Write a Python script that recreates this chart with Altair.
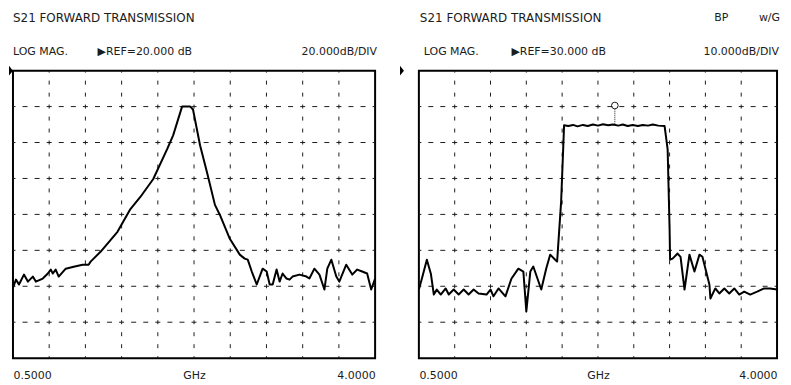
import altair as alt
import pandas as pd

# ---------------- data ----------------
# Left panel: LOG MAG, REF = 20 dB, 20 dB/div
f_left = [0.500, 0.529, 0.558, 0.606, 0.644, 0.692, 0.721, 0.788, 0.837, 0.865,
          0.885, 0.913, 0.942, 1.010, 1.087, 1.173, 1.231, 1.250, 1.346, 1.510,
          1.635, 1.731, 1.856, 1.990, 2.048, 2.135, 2.212, 2.240, 2.308, 2.375,
          2.452, 2.500, 2.596, 2.692, 2.740, 2.769, 2.808, 2.856, 2.913, 2.952,
          2.981, 3.010, 3.048, 3.077, 3.106, 3.144, 3.173, 3.202, 3.269, 3.337,
          3.365, 3.413, 3.462, 3.510, 3.538, 3.577, 3.625, 3.654, 3.721, 3.779,
          3.827, 3.875, 3.923, 3.962, 4.000]
db_left = [-100.7, -96.3, -99.0, -93.5, -97.4, -94.6, -97.4, -95.7, -92.9, -90.7,
           -92.9, -90.7, -94.6, -90.2, -89.1, -88.0, -88.0, -86.3, -80.8, -69.7,
           -57.0, -50.3, -40.3, -23.7, -16.0, 0.1, 0.1, -1.6, -21.5, -36.5,
           -54.7, -60.3, -73.6, -82.4, -84.6, -85.2, -91.8, -99.0, -90.2, -91.8,
           -99.0, -99.0, -90.7, -97.4, -92.9, -95.7, -96.3, -94.6, -93.5, -94.6,
           -95.7, -90.2, -93.5, -101.8, -90.2, -85.2, -94.6, -97.4, -88.0, -93.5,
           -90.7, -91.8, -92.9, -101.8, -95.7]

# Right panel: LOG MAG, REF = 30 dB, 10 dB/div (band-pass)
f_right = [0.500, 0.529, 0.578, 0.617, 0.646, 0.675, 0.714, 0.762, 0.792, 0.840,
           0.889, 0.938, 0.986, 1.035, 1.083, 1.161, 1.200, 1.229, 1.278, 1.346,
           1.404, 1.472, 1.521, 1.550, 1.589, 1.618, 1.696, 1.744, 1.783, 1.832,
           1.851, 1.890, 1.910, 1.919, 1.960, 2.007, 2.050, 2.104, 2.150, 2.201,
           2.250, 2.299, 2.350, 2.396, 2.450, 2.493, 2.540, 2.590, 2.640, 2.688,
           2.740, 2.785, 2.840, 2.901, 2.931, 2.950, 2.955, 2.979, 3.028, 3.057,
           3.096, 3.144, 3.193, 3.242, 3.271, 3.339, 3.349, 3.397, 3.436, 3.485,
           3.533, 3.582, 3.631, 3.679, 3.738, 3.806, 3.874, 3.932, 4.000]
db_right = [-30.9, -27.9, -22.6, -26.5, -32.3, -30.9, -32.3, -30.6, -32.3, -30.9,
            -32.3, -30.9, -32.3, -30.9, -32.0, -32.3, -30.9, -32.8, -30.6, -32.8,
            -27.9, -25.1, -25.9, -37.0, -25.9, -24.5, -30.9, -25.1, -21.2, -22.6,
            -23.1, -6.5, 8.1, 14.8, 14.6, 14.9, 14.5, 14.9, 14.6, 15.0,
            14.7, 15.1, 14.8, 15.0, 14.7, 15.0, 14.6, 14.9, 14.6, 14.9,
            14.7, 15.0, 14.7, 14.6, 8.1, -14.0, -22.6, -22.3, -20.9, -21.8,
            -30.9, -21.2, -25.9, -21.2, -21.8, -29.5, -33.4, -30.6, -32.0, -30.6,
            -32.0, -30.6, -32.3, -31.5, -32.3, -31.5, -30.6, -30.6, -30.9]

# grid positions
freq_grid = [0.85, 1.20, 1.55, 1.90, 2.25, 2.60, 2.95, 3.30, 3.65]
left_db_grid = [0, -20, -40, -60, -80, -100, -120]
right_db_grid = [20, 10, 0, -10, -20, -30, -40]

# axis labels
x_label_values = [0.5, 2.25, 4.0]

# marker on right trace
marker_f = [2.415]
marker_trace_db = [15.1]
marker_top_db = [19.3]
marker_db = [20.3]

FONT = "DejaVu Sans"
INK = "#1c1c1c"
ONE = pd.DataFrame({"a": [0]})


def text_layer(t, x, y, align="left", size=11):
    return alt.Chart(ONE).mark_text(
        text=t, align=align, baseline="middle", font=FONT, fontSize=size, color=INK
    ).encode(x=alt.value(x), y=alt.value(y))


def make_panel(f, db, y_lo, y_hi, h_lines, w, h, texts, ref_db, arrow_x,
               marker=False, anchor=False):
    xs = alt.Scale(domain=[0.5, 4.0], nice=False, zero=False)
    ys = alt.Scale(domain=[y_lo, y_hi], nice=False, zero=False)
    xaxis = alt.Axis(
        values=x_label_values,
        labelExpr="datum.value == 2.25 ? 'GHz' : format(datum.value, '.4f')",
        labelFlush=True, domain=False, ticks=False, grid=False,
        labelPadding=11, labelFont=FONT, labelFontSize=11, labelColor=INK,
        title=None,
    )
    layers = []
    if anchor:
        layers.append(
            alt.Chart(ONE).mark_rule(color="white", strokeWidth=1).encode(
                x=alt.value(-3.5), x2=alt.value(w), y=alt.value(-60.5)
            )
        )
    pv = h / 24.0
    ph = w / 30.0
    vgrid = alt.Chart(pd.DataFrame({"f": freq_grid})).mark_rule(
        color=INK, strokeWidth=1, strokeDash=[4, pv - 4], strokeDashOffset=2
    ).encode(x=alt.X("f:Q", scale=xs, axis=xaxis))
    hgrid = alt.Chart(pd.DataFrame({"db": h_lines})).mark_rule(
        color=INK, strokeWidth=1, strokeDash=[5, ph - 5], strokeDashOffset=2.5
    ).encode(y=alt.Y("db:Q", scale=ys, axis=None))
    trace = alt.Chart(pd.DataFrame({"f": f, "db": db})).mark_line(
        color="black", strokeWidth=2, strokeJoin="round"
    ).encode(
        x=alt.X("f:Q", scale=xs, axis=xaxis),
        y=alt.Y("db:Q", scale=ys, axis=None),
        order=alt.Order("f:Q"),
    )
    arrow = alt.Chart(pd.DataFrame({"db": [ref_db]})).mark_point(
        shape="M-0.4,-1L0.4,0L-0.4,1Z", filled=True, color="black",
        size=100, opacity=1, strokeWidth=0
    ).encode(x=alt.value(arrow_x), y=alt.Y("db:Q", scale=ys, axis=None))
    layers += [vgrid, hgrid, trace, arrow]
    if marker:
        mdf = pd.DataFrame({"f": marker_f, "lo": marker_trace_db,
                            "hi": marker_top_db, "m": marker_db})
        stem = alt.Chart(mdf).mark_rule(color=INK, strokeWidth=1, strokeDash=[1, 1]).encode(
            x=alt.X("f:Q", scale=xs, axis=xaxis),
            y=alt.Y("lo:Q", scale=ys, axis=None),
            y2="hi:Q",
        )
        circ = alt.Chart(mdf).mark_point(
            shape="circle", filled=False, color=INK, size=45, strokeWidth=1, opacity=1
        ).encode(
            x=alt.X("f:Q", scale=xs, axis=xaxis),
            y=alt.Y("m:Q", scale=ys, axis=None),
        )
        layers += [stem, circ]
    for t in texts:
        layers.append(text_layer(*t))
    return alt.layer(*layers).properties(width=w, height=h)


left = make_panel(
    f_left, db_left, -140, 20, left_db_grid, 364, 289,
    [("S21 FORWARD TRANSMISSION", 0, -53, "left", 12),
     ("LOG MAG.", 0, -19, "left"),
     ("\u25b6REF=20.000 dB", 85, -19, "left"),
     ("20.000dB/DIV", 366, -19, "right")],
    20, -2, anchor=True,
)
right = make_panel(
    f_right, db_right, -50, 30, right_db_grid, 360, 289,
    [("S21 FORWARD TRANSMISSION", 1, -53, "left", 12),
     ("BP", 297, -53, "left"),
     ("w/G", 363, -53, "right"),
     ("LOG MAG.", 5, -19, "left"),
     ("\u25b6REF=30.000 dB", 93, -19, "left"),
     ("10.000dB/DIV", 362, -19, "right")],
    30, -17, marker=True,
)

chart = alt.hconcat(left, right, spacing=44, bounds="flush").properties(
    padding={"left": 0, "top": 0, "right": 2, "bottom": 0}
).configure_view(stroke="black", strokeWidth=2)

chart.save("out.html", embed_options={"renderer": "svg", "actions": False})
